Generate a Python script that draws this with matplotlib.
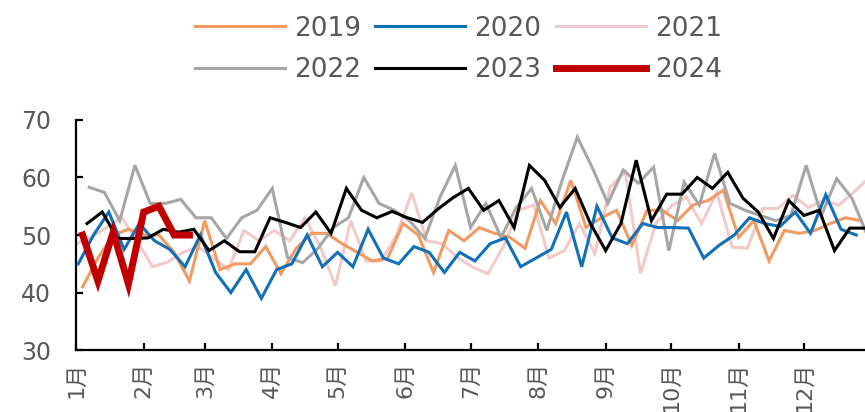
import matplotlib
matplotlib.use('Agg')
import matplotlib.pyplot as plt
import numpy as np

plt.rcParams['font.family'] = ['DejaVu Sans', 'Noto Sans CJK SC']

# weekly readings, each year laid on a common Jan-Dec day axis
years = ['2019', '2020', '2021', '2022', '2023', '2024']
first_day = [3, 1, 0, 6, 5, 3]  # day-of-year of the first weekly reading

v2019 = [41, 46, 50, 51, 50, 50, 47, 42, 52.5, 44, 45, 45, 48, 43.3, 47.7, 50.3, 50.3, 48.5,
         47, 45.5, 46, 52, 50, 43.5, 50.8, 49, 51.3, 50.3, 49.6, 47.7, 56, 52, 59.5, 51.3,
         53, 54.3, 48.2, 54.3, 54.3, 52.5, 55.2, 56, 57.8, 49.6, 52.5, 45.5, 50.8, 50.3,
         50.8, 52, 53, 52.5]
v2020 = [45, 50, 54, 47.5, 52, 49, 47.5, 44.5, 50, 43.5, 40, 44, 39, 44, 45, 50, 44.5, 47,
         44.5, 51, 46, 45, 48, 47, 43.5, 47, 45.5, 48.5, 49.5, 44.5, 46, 47.5, 54, 44.5, 55,
         49.5, 48.5, 52, 51.3, 51.3, 51.2, 46, 48.2, 50, 53, 52, 51.5, 54, 50.3, 57, 51, 50]
v2021 = [48.5, 49.6, 51.3, 53, 49, 44.5, 45.3, 47, 48, 46, 44, 50.8, 49, 50.8, 49, 53, 48,
         41.2, 52.5, 45.5, 45.5, 50, 57.3, 49, 48.5, 46.1, 44.4, 43.3, 48, 54.3, 55.2, 46,
         47.3, 52, 46.8, 58.3, 61, 43.3, 52, 55, 56.6, 52, 57.4, 47.9, 47.7, 54.6, 54.6,
         56.9, 54.8, 56, 55.2, 57.5, 60]
v2022 = [58.3, 57.4, 52.5, 62.1, 55.5, 55.5, 56.2, 53, 53, 49.4, 53, 54.3, 58.1, 46.1, 45.2,
         47.7, 51.3, 53, 60, 55.5, 54.3, 52.5, 49.4, 56.6, 62.1, 51.3, 55.5, 49.6, 54.8, 58.1,
         50.8, 59.5, 67, 61.6, 55.5, 61.3, 59, 61.8, 47.3, 59.2, 55.2, 64.2, 55.5, 54.3, 53.4,
         52.5, 53.4, 62.1, 53.4, 59.8, 56.4, 50]
v2023 = [52, 54, 49.4, 49.4, 49.5, 51, 50.5, 51, 47.3, 49, 47.1, 47.1, 53, 52.2, 51.3, 54,
         50.3, 58.1, 54.3, 53, 54.1, 53, 52.2, 54.5, 56.5, 58.1, 54.3, 56, 51.3, 62.1, 59.5,
         54.8, 58.1, 52, 47.3, 52, 63, 52.5, 57.1, 57.1, 60, 58.1, 60.9, 56.4, 54, 49.4, 56,
         53.4, 54.3, 47.3, 51.2, 51.2]
v2024 = [50, 42, 50.5, 41.5, 54, 55, 50, 50]

month_labels = ['1月', '2月', '3月', '4月', '5月', '6月', '7月', '8月', '9月', '10月', '11月', '12月']
month_start = [0, 31, 59, 90, 120, 151, 181, 212, 243, 273, 304, 334]

series = [v2019, v2020, v2021, v2022, v2023, v2024]
colors = ['#F19A63', '#1170B8', '#F2CACB', '#A6A6A6', '#000000', '#C00000']
widths = [2.2, 2.2, 2.2, 2.2, 2.2, 5.0]
zorders = [3, 4, 2, 3, 5, 6]

fig = plt.figure(figsize=(8.65, 4.12), dpi=100)
ax = fig.add_axes([0.088, 0.150, 0.912, 0.559])

lines = {}
for name, vals, d0, c, lw, z in zip(years, series, first_day, colors, widths, zorders):
    x = d0 + 7 * np.arange(len(vals))
    ln, = ax.plot(x, vals, color=c, lw=lw, zorder=z, solid_joinstyle='miter')
    lines[name] = ln

ax.set_xlim(0, 362)
ax.set_ylim(30, 70)
ax.set_yticks([30, 40, 50, 60, 70])
ax.set_xticks(month_start)
ax.set_xticklabels(month_labels, rotation=90)

for s in ['top', 'right']:
    ax.spines[s].set_visible(False)
for s in ['left', 'bottom']:
    ax.spines[s].set_linewidth(1.6)
ax.tick_params(axis='both', direction='in', length=5, width=1.6,
               labelsize=16, labelcolor='#595959', pad=8)
ax.tick_params(axis='y', labelsize=17, pad=18)

# row-major order for a 3-column legend
order = ['2019', '2022', '2020', '2023', '2021', '2024']
fig.legend([lines[k] for k in order], order, ncol=3, loc='upper center',
           bbox_to_anchor=(0.53, 1.02), frameon=False, fontsize=19,
           handlelength=3.4, handletextpad=0.35, columnspacing=0.55,
           labelspacing=0.6, labelcolor='#595959')

fig.savefig('out.png', dpi=100)
